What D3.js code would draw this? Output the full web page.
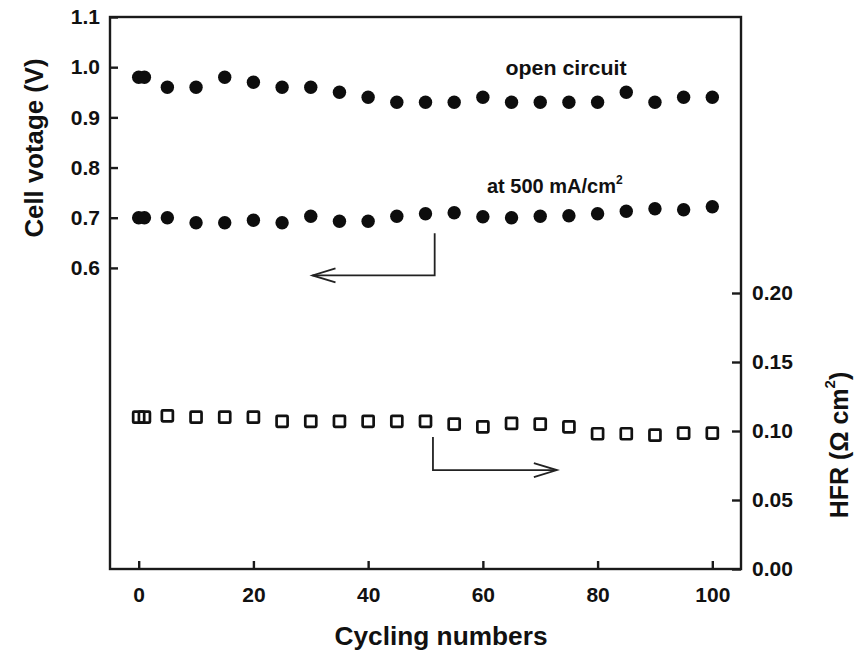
<!DOCTYPE html>
<html>
<head>
<meta charset="utf-8">
<script src="https://cdn.jsdelivr.net/npm/d3@7"></script>
<style>
  html, body { margin: 0; padding: 0; background: #fff; }
  svg { display: block; }
  text { font-family: "Liberation Sans", Arial, sans-serif; font-weight: bold; fill: #111; }
</style>
</head>
<body>
<script>
// Cycle numbers at which the cell was measured
const cycles = [0, 1, 5, 10, 15, 20, 25, 30, 35, 40, 45, 50, 55, 60, 65, 70, 75, 80, 85, 90, 95, 100];

// Cell voltage at open circuit (V)
const ocv = [0.98, 0.98, 0.96, 0.96, 0.98, 0.97, 0.96, 0.96, 0.95, 0.94, 0.93,
             0.93, 0.93, 0.94, 0.93, 0.93, 0.93, 0.93, 0.95, 0.93, 0.94, 0.94];

// Cell voltage at 500 mA/cm2 (V)
const v500 = [0.70, 0.70, 0.70, 0.69, 0.69, 0.695, 0.69, 0.703, 0.693, 0.693, 0.703,
              0.708, 0.71, 0.702, 0.70, 0.703, 0.704, 0.708, 0.713, 0.718, 0.716, 0.722];

// High frequency resistance (Ohm cm2)
const hfr = [0.110, 0.110, 0.111, 0.110, 0.110, 0.110, 0.107, 0.107, 0.107, 0.107, 0.107,
             0.107, 0.105, 0.103, 0.1055, 0.105, 0.103, 0.098, 0.098, 0.097, 0.0985, 0.0985];

// Tick values
const xTicks = [0, 20, 40, 60, 80, 100];
const yLeftTicks = [0.6, 0.7, 0.8, 0.9, 1.0, 1.1];
const yRightTicks = [0.00, 0.05, 0.10, 0.15, 0.20];

// Axis pointer arrows: [x, y] in data units (left arrow uses voltage axis, right arrow uses HFR axis)
const leftArrow = [[51.6, 0.669], [51.6, 0.585], [30.3, 0.585]];
const rightArrow = [[51.3, 0.0957], [51.3, 0.0717], [72.9, 0.0717]];

const W = 862, H = 651;
const plot = { left: 110, right: 741, top: 17, bottom: 569 };

const svg = d3.select("body").append("svg").attr("width", W).attr("height", H);

const x = d3.scaleLinear().domain([-5, 105]).range([plot.left, plot.right]);
const yL = d3.scaleLinear().domain([0, 1.1]).range([plot.bottom, plot.top]);
const yR = d3.scaleLinear().domain([0, 0.4]).range([plot.bottom, plot.top]);

const ink = "#1a1a1a";

// Frame
svg.append("rect")
  .attr("x", plot.left).attr("y", plot.top)
  .attr("width", plot.right - plot.left).attr("height", plot.bottom - plot.top)
  .attr("fill", "none").attr("stroke", ink).attr("stroke-width", 2.4);

function styleAxis(g) {
  g.select(".domain").remove();
  g.selectAll(".tick line").attr("stroke", ink).attr("stroke-width", 2.4);
  g.selectAll(".tick text").attr("font-size", 21).attr("fill", "#111")
    .attr("font-family", "Liberation Sans, Arial, sans-serif").attr("font-weight", "bold");
}

// Bottom axis (ticks pointing inward)
svg.append("g")
  .attr("transform", `translate(0,${plot.bottom})`)
  .call(d3.axisBottom(x).tickValues(xTicks).tickSizeInner(-8).tickSizeOuter(0).tickPadding(18)
        .tickFormat(d3.format("d")))
  .call(styleAxis);

// Left axis (voltage)
svg.append("g")
  .attr("transform", `translate(${plot.left},0)`)
  .call(d3.axisLeft(yL).tickValues(yLeftTicks).tickSizeInner(-8).tickSizeOuter(0).tickPadding(10)
        .tickFormat(d3.format(".1f")))
  .call(styleAxis);

// Right axis (HFR)
svg.append("g")
  .attr("transform", `translate(${plot.right},0)`)
  .call(d3.axisRight(yR).tickValues(yRightTicks).tickSizeInner(-9).tickSizeOuter(0).tickPadding(11)
        .tickFormat(d3.format(".2f")))
  .call(styleAxis);

// Axis titles
svg.append("text")
  .attr("transform", `translate(34,148) rotate(-90)`)
  .attr("text-anchor", "middle").attr("dominant-baseline", "central")
  .attr("font-size", 25).attr("textLength", 179).attr("lengthAdjust", "spacingAndGlyphs")
  .text("Cell votage (V)");

const hfrTitle = svg.append("text")
  .attr("transform", `translate(839,445) rotate(-90)`)
  .attr("text-anchor", "middle").attr("dominant-baseline", "central")
  .attr("font-size", 25);
hfrTitle.append("tspan").text("HFR (\u03A9 cm");
hfrTitle.append("tspan").attr("font-size", 15).attr("dy", -10).text("2");
hfrTitle.append("tspan").attr("dy", 10).text(")");

svg.append("text")
  .attr("x", 441).attr("y", 645)
  .attr("text-anchor", "middle")
  .attr("font-size", 25).attr("textLength", 213).attr("lengthAdjust", "spacingAndGlyphs")
  .text("Cycling numbers");

// Voltage series (filled circles)
const pts = cycles.map((c, i) => ({ c, ocv: ocv[i], v500: v500[i], hfr: hfr[i] }));

svg.append("g").selectAll("circle.ocv").data(pts).join("circle")
  .attr("class", "ocv")
  .attr("cx", d => x(d.c)).attr("cy", d => yL(d.ocv)).attr("r", 6.7)
  .attr("fill", "#0d0d0d");

svg.append("g").selectAll("circle.v500").data(pts).join("circle")
  .attr("class", "v500")
  .attr("cx", d => x(d.c)).attr("cy", d => yL(d.v500)).attr("r", 6.7)
  .attr("fill", "#0d0d0d");

// HFR series (open squares)
const sq = 11;
svg.append("g").selectAll("rect.hfr").data(pts).join("rect")
  .attr("class", "hfr")
  .attr("x", d => x(d.c) - sq / 2).attr("y", d => yR(d.hfr) - sq / 2)
  .attr("width", sq).attr("height", sq).attr("rx", 1)
  .attr("fill", "none").attr("stroke", "#111").attr("stroke-width", 2.7);

// Series labels
svg.append("text")
  .attr("x", 566).attr("y", 75).attr("text-anchor", "middle")
  .attr("font-size", 21).attr("textLength", 121).attr("lengthAdjust", "spacingAndGlyphs")
  .text("open circuit");

const lab500 = svg.append("text")
  .attr("x", 487).attr("y", 193)
  .attr("font-size", 20);
lab500.append("tspan").text("at 500 mA/cm");
lab500.append("tspan").attr("font-size", 12).attr("dy", -9).text("2");

// Pointer arrows
function drawArrow(points, ys) {
  const p = points.map(([a, b]) => [x(a), ys(b)]);
  svg.append("path")
    .attr("d", d3.line()(p))
    .attr("fill", "none").attr("stroke", "#222").attr("stroke-width", 1.8);
  const [tx, ty] = p[p.length - 1];
  const [px] = p[p.length - 2];
  const dir = Math.sign(tx - px);
  const head = [[tx - dir * 23, ty - 7], [tx, ty], [tx - dir * 23, ty + 7]];
  svg.append("path")
    .attr("d", d3.line()(head))
    .attr("fill", "none").attr("stroke", "#222").attr("stroke-width", 1.8);
}
drawArrow(leftArrow, yL);
drawArrow(rightArrow, yR);
</script>
</body>
</html>
